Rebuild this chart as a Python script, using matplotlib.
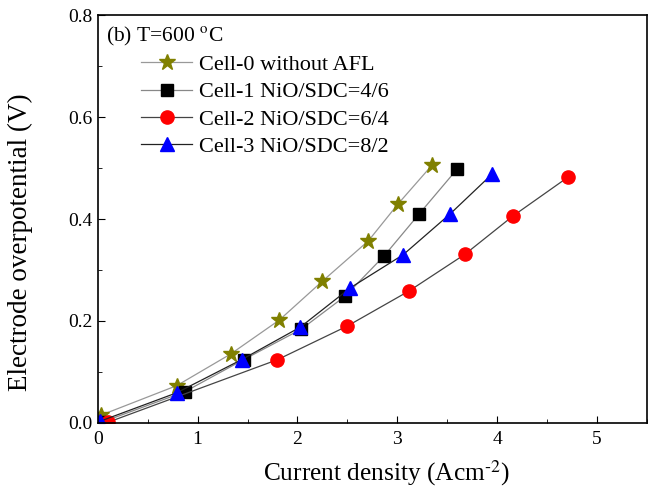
import matplotlib.pyplot as plt
from matplotlib.ticker import MultipleLocator

plt.rcParams['font.family'] = ['Liberation Serif', 'DejaVu Serif']
plt.rcParams['mathtext.fontset'] = 'stix'

# Data
cell0_x = [0.03, 0.79, 1.33, 1.82, 2.25, 2.71, 3.01, 3.35]
cell0_y = [0.015, 0.073, 0.135, 0.202, 0.278, 0.357, 0.430, 0.506]

cell1_x = [0.05, 0.87, 1.46, 2.04, 2.48, 2.87, 3.22, 3.60]
cell1_y = [0.002, 0.061, 0.124, 0.184, 0.249, 0.328, 0.410, 0.498]

cell2_x = [0.10, 1.80, 2.50, 3.12, 3.68, 4.16, 4.71]
cell2_y = [0.001, 0.124, 0.190, 0.259, 0.331, 0.406, 0.482]

cell3_x = [0.02, 0.79, 1.44, 2.03, 2.53, 3.06, 3.53, 3.95]
cell3_y = [0.003, 0.059, 0.124, 0.188, 0.265, 0.330, 0.410, 0.488]

labels = ['Cell-0 without AFL', 'Cell-1 NiO/SDC=4/6',
          'Cell-2 NiO/SDC=6/4', 'Cell-3 NiO/SDC=8/2']

fig = plt.figure(figsize=(6.48, 4.90), dpi=100)
ax = fig.add_axes([0.151, 0.137, 0.847, 0.832])

ax.plot(cell0_x, cell0_y, color='#999999', lw=0.9, marker='*', ms=12,
        mfc='#808000', mec='#808000', label=labels[0])
ax.plot(cell1_x, cell1_y, color='#888888', lw=0.9, marker='s', ms=8.5,
        mfc='black', mec='black', label=labels[1])
ax.plot(cell2_x, cell2_y, color='#444444', lw=0.9, marker='o', ms=9.5,
        mfc='red', mec='red', label=labels[2])
ax.plot(cell3_x, cell3_y, color='#222222', lw=0.9, marker='^', ms=9.5,
        mfc='blue', mec='blue', label=labels[3])

ax.set_xlim(0, 5.5)
ax.set_ylim(0, 0.8)
ax.xaxis.set_major_locator(MultipleLocator(1))
ax.xaxis.set_minor_locator(MultipleLocator(0.5))
ax.yaxis.set_major_locator(MultipleLocator(0.2))
ax.yaxis.set_minor_locator(MultipleLocator(0.1))
ax.tick_params(which='both', direction='in', top=False, right=False,
               labelsize=14)
ax.tick_params(axis='x', pad=6)
ax.tick_params(which='major', length=5)
ax.tick_params(which='minor', length=3)
ax.set_xticklabels([f'{v:g}' for v in ax.get_xticks()])
ax.set_yticklabels([f'{v:.1f}' for v in ax.get_yticks()])
for s in ax.spines.values():
    s.set_linewidth(1.2)

ax.set_xlabel('Current density (Acm$^{\\text{-}2}$)', fontsize=18.3)
ax.set_ylabel('Electrode overpotential (V)', fontsize=19.5)
ax.xaxis.set_label_coords(0.526, -0.088)
ax.yaxis.set_label_coords(-0.118, 0.444)

ax.text(0.015, 0.975, '(b) T=600 $^{\\mathrm{o}}$C', transform=ax.transAxes,
        fontsize=15.5, va='top', ha='left')
ax.legend(loc='upper left', bbox_to_anchor=(0.063, 0.925), frameon=False,
          fontsize=16, handlelength=2.3, labelspacing=0.3, handletextpad=0.3,
          borderaxespad=0)

fig.savefig('out.png', dpi=100)
